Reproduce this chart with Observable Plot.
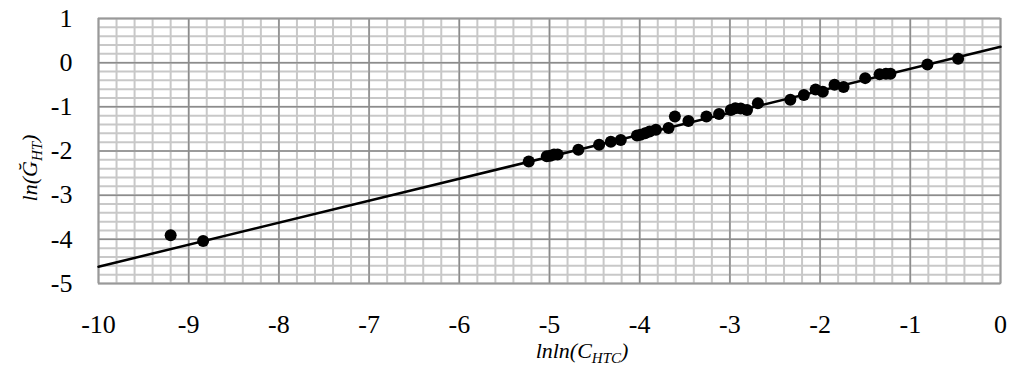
<!DOCTYPE html>
<html><head><meta charset="utf-8">
<script src="https://cdn.jsdelivr.net/npm/d3@7"></script>
<script src="https://cdn.jsdelivr.net/npm/@observablehq/plot@0.6"></script>
<style>
body{margin:0;background:#fff}
svg text{font-family:"Liberation Serif","Times New Roman",serif !important;font-size:26px}
</style>
</head><body><div id="chart"></div>
<script>
// Tick values
const xTicks = [-10, -9, -8, -7, -6, -5, -4, -3, -2, -1, 0];
const yTicks = [-5, -4, -3, -2, -1, 0, 1];
// Observed points: lnln(C_HTC) and ln(G_HT)
const lnlnC = [-9.20, -8.84, -5.23, -5.03, -4.99, -4.95, -4.91, -4.68, -4.45, -4.32, -4.21,
  -4.03, -3.99, -3.94, -3.89, -3.82, -3.68, -3.61, -3.46, -3.26, -3.12, -2.99, -2.94,
  -2.88, -2.81, -2.69, -2.33, -2.18, -2.05, -1.97, -1.84, -1.74, -1.50, -1.34, -1.27,
  -1.22, -0.81, -0.47];
const lnG = [-3.91, -4.04, -2.24, -2.12, -2.11, -2.08, -2.08, -1.97, -1.86, -1.79, -1.75,
  -1.65, -1.63, -1.60, -1.56, -1.52, -1.48, -1.22, -1.32, -1.22, -1.16, -1.07, -1.03,
  -1.04, -1.07, -0.92, -0.84, -0.73, -0.61, -0.66, -0.50, -0.55, -0.35, -0.26, -0.25,
  -0.25, -0.04, 0.09];
// Fitted line endpoints
const fitX = [-10, 0];
const fitY = [-4.62, 0.36];

const points = lnlnC.map((x, i) => ({x, y: lnG[i]}));
const fit = fitX.map((x, i) => ({x, y: fitY[i]}));
const minorX = d3.range(-100, 1, 2).map(d => d / 10);
const minorY = d3.range(-50, 11, 2).map(d => d / 10);

const chart = Plot.plot({
  width: 1014, height: 369,
  marginLeft: 98, marginRight: 14, marginTop: 18, marginBottom: 86,
  style: {fontFamily: "'Liberation Serif','Times New Roman',serif", fontSize: "26px", color: "#000", background: "#fff"},
  x: {domain: [-10, 0], label: null},
  y: {domain: [-5, 1], label: null},
  marks: [
    Plot.ruleX(minorX, {stroke: "#c8c8c8", strokeWidth: 2}),
    Plot.ruleY(minorY, {stroke: "#c8c8c8", strokeWidth: 2}),
    Plot.ruleX(xTicks, {stroke: "#8c8c8c", strokeWidth: 1.5}),
    Plot.ruleY(yTicks, {stroke: "#8c8c8c", strokeWidth: 1.5}),
    Plot.frame({stroke: "#999", strokeWidth: 1.5}),
    Plot.axisX(xTicks, {tickSize: 0, tickPadding: 31, fontSize: 26, label: null, tickFormat: d => String(d)}),
    Plot.axisY(yTicks, {tickSize: 0, tickPadding: 26, fontSize: 26, label: null, tickFormat: d => String(d)}),
    Plot.line(fit, {x: "x", y: "y", stroke: "#000", strokeWidth: 2.5}),
    Plot.dot(points, {x: "x", y: "y", r: 6, fill: "#000", stroke: "none"})
  ]
});

const svg = d3.select(chart);
const xl = svg.append("text")
  .attr("x", 582).attr("y", 358)
  .attr("text-anchor", "middle")
  .style("font-style", "italic").style("font-size", "22px");
xl.append("tspan").text("lnln(C");
xl.append("tspan").attr("dy", 5).style("font-size", "15px").text("HTC");
xl.append("tspan").attr("dy", -5).text(")");

const yl = svg.append("text")
  .attr("transform", "translate(37,168) rotate(-90)")
  .attr("text-anchor", "middle")
  .style("font-style", "italic").style("font-size", "22px");
yl.append("tspan").text("ln(Ğ");
yl.append("tspan").attr("dy", 5).style("font-size", "15px").text("HT");
yl.append("tspan").attr("dy", -5).text(")");

document.getElementById("chart").appendChild(chart);
</script>
</body></html>
